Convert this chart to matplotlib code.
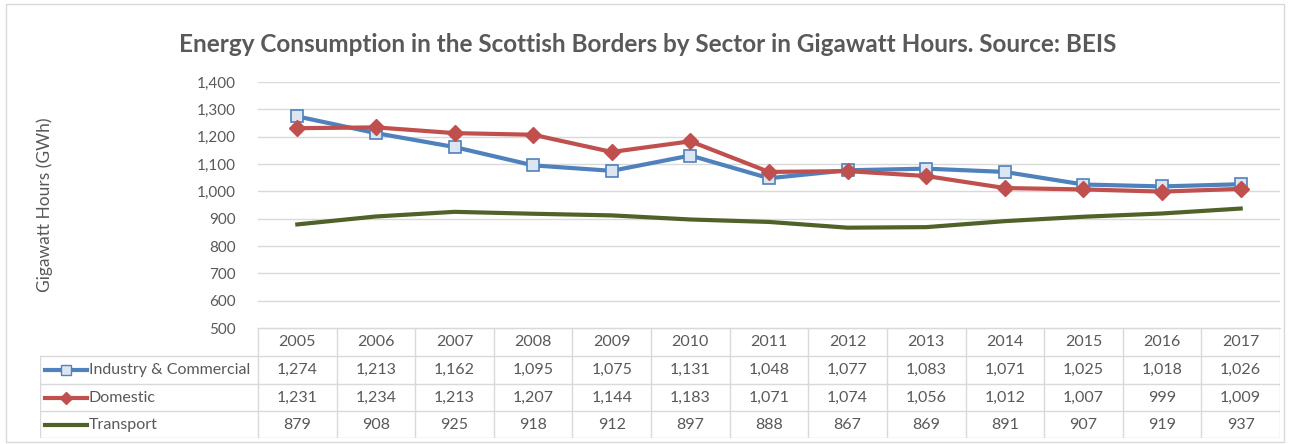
import numpy as np
import matplotlib.pyplot as plt
from matplotlib.lines import Line2D

## Data
years = ['2005', '2006', '2007', '2008', '2009', '2010', '2011',
         '2012', '2013', '2014', '2015', '2016', '2017']
industry = [1274, 1213, 1162, 1095, 1075, 1131, 1048, 1077, 1083, 1071, 1025, 1018, 1026]
domestic = [1231, 1234, 1213, 1207, 1144, 1183, 1071, 1074, 1056, 1012, 1007, 999, 1009]
transport = [879, 908, 925, 918, 912, 897, 888, 867, 869, 891, 907, 919, 937]
series_names = ['Industry & Commercial', 'Domestic', 'Transport']

## Styles
blue = '#4F81BD'
red = '#C0504D'
green = '#4F6228'
text_col = '#595959'
grid_col = '#D9D9D9'
plt.rcParams['font.family'] = ['Lato', 'DejaVu Sans']

W, H = 1289, 444
fig = plt.figure(figsize=(W / 100, H / 100), dpi=100)

# pixel helpers for layout
def fx(px):
    return px / W

def fy(py):
    return 1 - py / H

# outer chart border
fig.patches.append(plt.Rectangle((fx(6), fy(442)), fx(1278), 438 / H,
                                 transform=fig.transFigure, fill=False,
                                 edgecolor=grid_col, lw=1))

ax = fig.add_axes([fx(258), fy(328), fx(1280 - 258), (328 - 82) / H])
x = np.arange(len(years))
ax.plot(x, industry, color=blue, lw=3, marker='s', ms=8,
        mfc='#DCE6F2', mec=blue, mew=1.2, zorder=3)
ax.plot(x, domestic, color=red, lw=3, marker='D', ms=8,
        mfc=red, mec=red, zorder=3)
ax.plot(x, transport, color=green, lw=3, zorder=3)
ax.set_xlim(-0.5, len(years) - 0.5)
ax.set_ylim(500, 1400)
ax.set_yticks(np.arange(500, 1401, 100))
ax.set_yticklabels([f'{v:,}' for v in range(500, 1401, 100)])
ax.set_xticks([])
ax.grid(axis='y', color=grid_col, lw=1)
ax.set_axisbelow(True)
for s in ['top', 'right', 'left']:
    ax.spines[s].set_visible(False)
ax.spines['bottom'].set_color(grid_col)
ax.tick_params(axis='y', length=0, labelsize=11, colors=text_col, pad=16)

fig.text(fx(45), fy(205), 'Gigawatt Hours (GWh)', rotation=90, ha='center',
         va='center', fontsize=12.5, color=text_col)
fig.text(fx(648), fy(45), 'Energy Consumption in the Scottish Borders by Sector '
         'in Gigawatt Hours. Source: BEIS', ha='center', va='center',
         fontsize=17.5, fontweight='bold', color=text_col)

## Data table
tab = fig.add_axes([fx(40), fy(438), fx(1280 - 40), (438 - 328) / H])
tab.set_xlim(40, 1280)
tab.set_ylim(438, 328)
tab.axis('off')
col_w = (1280 - 258) / len(years)
row_y = [328, 356, 384, 411, 438]
# horizontal lines
for ry in row_y[1:]:
    tab.plot([40, 1280], [ry, ry], color=grid_col, lw=1)
tab.plot([258, 1280], [328, 328], color=grid_col, lw=1)
# vertical lines
tab.plot([40, 40], [356, 438], color=grid_col, lw=1)
for i in range(len(years) + 1):
    cx = 258 + i * col_w
    tab.plot([cx, cx], [328, 438], color=grid_col, lw=1)
# header
for i, yr in enumerate(years):
    tab.text(258 + (i + 0.5) * col_w, (328 + 356) / 2, yr, ha='center',
             va='center', fontsize=11.5, color=text_col)
# rows
rows = [industry, domestic, transport]
styles = [dict(color=blue, marker='s', ms=7, mfc='#DCE6F2', mec=blue, mew=1),
          dict(color=red, marker='D', ms=6, mfc=red, mec=red),
          dict(color=green)]
for r, (vals, name, st) in enumerate(zip(rows, series_names, styles)):
    cy = (row_y[r + 1] + row_y[r + 2]) / 2
    tab.add_line(Line2D([45, 66, 87], [cy, cy, cy], lw=3, markevery=[1], **st))
    tab.text(89, cy, name, ha='left', va='center', fontsize=11.5, color=text_col)
    for i, v in enumerate(vals):
        tab.text(258 + (i + 0.5) * col_w, cy, f'{v:,}', ha='center',
                 va='center', fontsize=11.5, color=text_col)

fig.savefig('out.png', dpi=100)
